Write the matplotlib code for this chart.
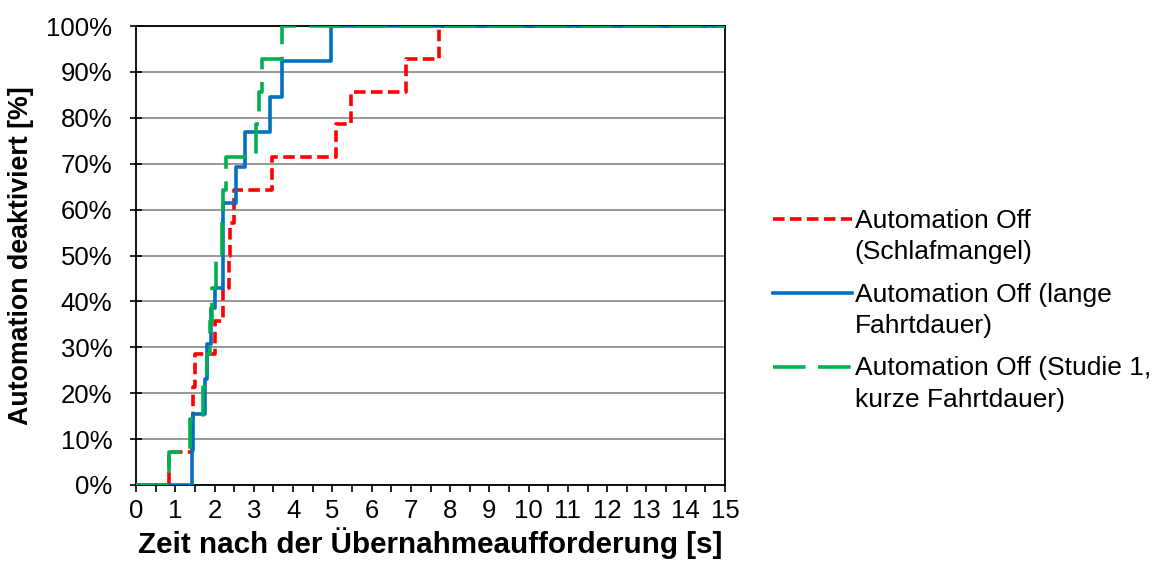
import matplotlib.pyplot as plt
from matplotlib.ticker import MultipleLocator, FuncFormatter
from matplotlib.legend_handler import HandlerLine2D

plt.rcParams['font.family'] = ['Liberation Sans', 'DejaVu Sans']

# Cumulative share of drivers who switched the automation off (step data)
t_schlaf = [0.85, 1.42, 1.46, 1.51, 2.0, 2.22, 2.37, 2.39, 2.5, 3.46, 5.1, 5.47, 6.87, 7.72]
v_schlaf = [7.1, 14.3, 21.4, 28.6, 35.7, 42.9, 50.0, 57.1, 64.3, 71.4, 78.6, 85.7, 92.9, 100.0]

t_lang = [1.42, 1.45, 1.76, 1.82, 1.9, 2.01, 2.22, 2.55, 2.77, 3.4, 3.71, 4.96]
v_lang = [7.7, 15.4, 23.1, 30.8, 38.5, 43.0, 61.5, 69.2, 76.9, 84.6, 92.3, 100.0]

t_kurz = [0.85, 1.37, 1.71, 1.8, 1.88, 1.93, 2.05, 2.18, 2.22, 2.28, 3.06, 3.13, 3.22, 3.71]
v_kurz = [7.1, 14.3, 21.4, 28.6, 35.7, 42.9, 50.0, 57.1, 64.3, 71.4, 78.6, 85.7, 92.9, 100.0]

labels = ['Automation Off\n(Schlafmangel)',
          'Automation Off (lange\nFahrtdauer)',
          'Automation Off (Studie 1,\nkurze Fahrtdauer)']

x_max = 15
line_gap = 1.38


class FirstLineHandler(HandlerLine2D):
    # put the legend line level with the first text line of a two-line label
    def create_artists(self, legend, orig_handle, xdescent, ydescent,
                       width, height, fontsize, trans):
        artists = super().create_artists(legend, orig_handle, xdescent, ydescent,
                                         width, height, fontsize, trans)
        shift = 0.58 * fontsize * line_gap / 1.2
        for a in artists:
            a.set_ydata([y + shift for y in a.get_ydata()])
        return artists


fig = plt.figure(figsize=(11.56, 5.67), dpi=100)
ax = fig.add_axes([136 / 1156, 1 - 485 / 567, (725 - 136) / 1156, (485 - 26) / 567])


def full_steps(t, v):
    # start at the origin and hold the last value to the end of the axis
    return [0] + t + [x_max], [0] + v + [v[-1]]


x, y = full_steps(t_schlaf, v_schlaf)
l1, = ax.step(x, y, where='post', color='#FF0000', lw=2.6, dashes=(3.2, 1.5),
              label=labels[0], zorder=3)
x, y = full_steps(t_lang, v_lang)
l2, = ax.step(x, y, where='post', color='#0070C0', lw=2.6, label=labels[1], zorder=4)
x, y = full_steps(t_kurz, v_kurz)
l3, = ax.step(x, y, where='post', color='#00B050', lw=2.6, dashes=(9, 3.5),
              label=labels[2], zorder=5)

ax.set_xlim(0, x_max)
ax.set_ylim(0, 100)
ax.xaxis.set_major_locator(MultipleLocator(1))
ax.xaxis.set_minor_locator(MultipleLocator(0.5))
ax.yaxis.set_major_locator(MultipleLocator(10))
ax.yaxis.set_major_formatter(FuncFormatter(lambda v, p: f'{v:.0f}%'))

ax.grid(axis='y', color='#868686', lw=1.2)
ax.set_axisbelow(True)
for s in ax.spines.values():
    s.set_color('black')
    s.set_linewidth(1.3)

ax.tick_params(axis='x', which='both', direction='out', length=5, width=1.2,
               labelsize=18.5, pad=5)
ax.tick_params(axis='y', direction='inout', length=8, width=1.2,
               labelsize=18.5, pad=13)

ax.set_xlabel('Zeit nach der Übernahmeaufforderung [s]', fontsize=21.3,
              fontweight='bold', labelpad=3)
ax.set_ylabel('Automation deaktiviert [%]', fontsize=19.3, fontweight='bold',
              labelpad=9)

leg = fig.legend(handles=[l1, l2, l3], loc='upper left',
                 bbox_to_anchor=(773 / 1156, 1 - 209 / 567),
                 frameon=False, fontsize=19, handlelength=3.0, handletextpad=0.1,
                 labelspacing=0.7, borderpad=0, borderaxespad=0,
                 handler_map={l1: FirstLineHandler(), l2: FirstLineHandler(),
                              l3: FirstLineHandler()})
for txt in leg.get_texts():
    txt.set_linespacing(line_gap)

fig.savefig('out.png', dpi=100)
